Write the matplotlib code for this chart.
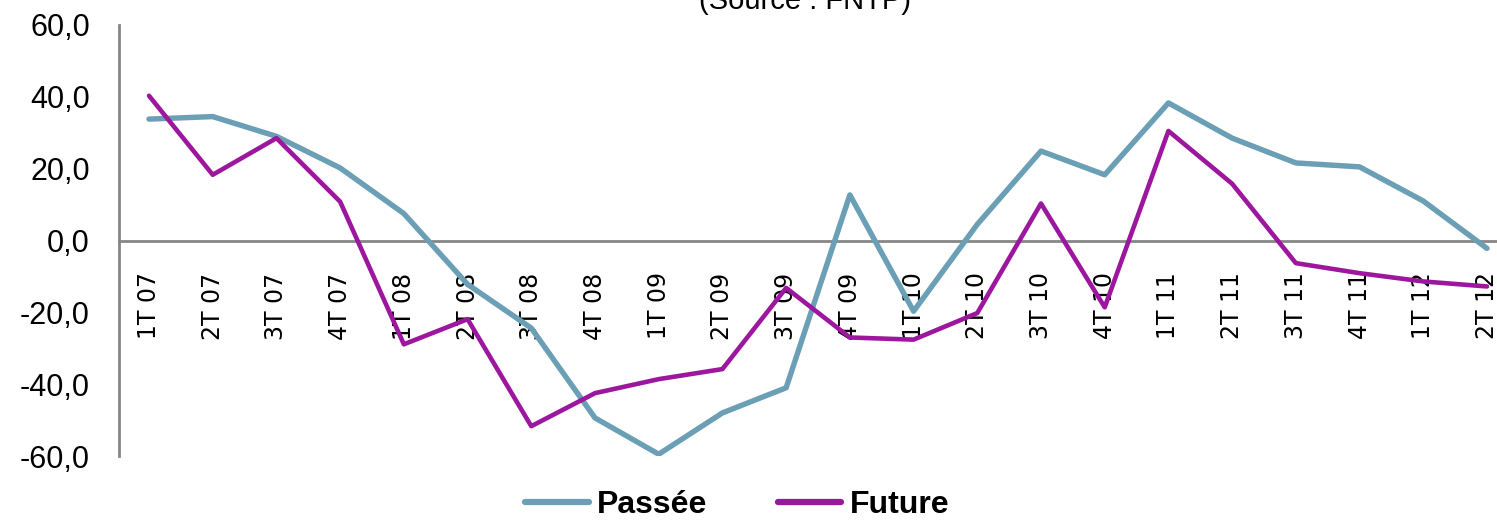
import matplotlib
matplotlib.use("Agg")
from matplotlib import pyplot as plt

trimestres = ["1T 07", "2T 07", "3T 07", "4T 07", "1T 08", "2T 08", "3T 08", "4T 08",
              "1T 09", "2T 09", "3T 09", "4T 09", "1T 10", "2T 10", "3T 10", "4T 10",
              "1T 11", "2T 11", "3T 11", "4T 11", "1T 12", "2T 12"]
passee = [33.8, 34.5, 29.0, 20.2, 7.5, -12.2, -24.4, -49.4, -59.5, -48.0, -41.0, 12.7,
          -19.7, 4.5, 24.9, 18.3, 38.3, 28.5, 21.6, 20.5, 11.0, -2.2]
future = [40.3, 18.3, 28.5, 10.8, -28.9, -21.9, -51.7, -42.5, -38.6, -35.8, -13.2, -27.0,
          -27.6, -20.2, 10.3, -18.6, 30.5, 15.8, -6.3, -9.1, -11.4, -12.8]
y_ticks = [-60, -40, -20, 0, 20, 40, 60]

fig = plt.figure(figsize=(14.97, 5.22), dpi=100)
ax = fig.add_axes([119 / 1497, 1 - 456 / 522, 1 - 119 / 1497, (456 - 25) / 522])

x = range(len(trimestres))
ax.plot(x, passee, color="#6A9FB5", linewidth=3.9, label="Passée", solid_capstyle="round")
ax.plot(x, future, color="#9C179E", linewidth=3.3, label="Future", solid_capstyle="round")

ax.set_xlim(-0.471, 21.157)
ax.set_ylim(-60, 60)

# axes grises, axe des x sur zero
for s in ["top", "right"]:
    ax.spines[s].set_visible(False)
ax.spines["bottom"].set_position(("data", 0))
ax.spines["bottom"].set_color("#868686")
ax.spines["bottom"].set_linewidth(2)
ax.spines["left"].set_color("#868686")
ax.spines["left"].set_linewidth(2)
ax.spines["bottom"].set_zorder(1)

ax.set_xticks(list(x))
ax.set_xticklabels(trimestres, rotation=90, fontsize=17, family="DejaVu Sans", va="top")
ax.tick_params(axis="x", length=0, pad=23)

ax.set_yticks(y_ticks)
ax.set_yticklabels(["{:.1f}".format(v).replace(".", ",") for v in y_ticks],
                   fontsize=22, family="Liberation Sans")
ax.tick_params(axis="y", length=0, pad=21)

fig.text(805 / 1497, 1 - 9 / 522, "(Source : FNTP)", ha="center", va="baseline",
         fontsize=21, family="Liberation Sans")

fig.legend(loc="center", ncol=2, frameon=False, bbox_to_anchor=(737 / 1497, 1 - 505 / 522),
           prop={"size": 23, "weight": "bold", "family": "Liberation Sans"},
           handlelength=2.0, columnspacing=2.2, handletextpad=0.25)
for ln in fig.legends[0].get_lines():
    ln.set_linewidth(4.5)

fig.savefig("out.png", dpi=100)
